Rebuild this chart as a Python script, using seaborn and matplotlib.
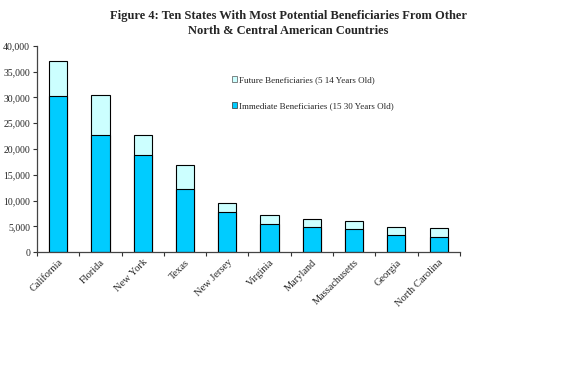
import numpy as np
import pandas as pd
import matplotlib
matplotlib.use("Agg")
import matplotlib.pyplot as plt
import seaborn as sns
from matplotlib.patches import Patch
from matplotlib.ticker import FuncFormatter, FixedLocator

# chart data
states = ["California", "Florida", "New York", "Texas", "New Jersey",
          "Virginia", "Maryland", "Massachusetts", "Georgia", "North Carolina"]
immediate = [30200, 22700, 18900, 12300, 7800, 5400, 4900, 4500, 3400, 2900]
future = [6900, 7800, 3900, 4600, 1700, 1800, 1600, 1450, 1400, 1700]

df = pd.DataFrame({"State": states, "Immediate": immediate, "Future": future})
df["Total"] = df["Immediate"] + df["Future"]

sns.set_style("white")
plt.rcParams["font.family"] = ["Liberation Serif", "DejaVu Serif"]

fig = plt.figure(figsize=(5.88, 3.67), dpi=100)
ax = fig.add_axes([0.063, 0.313, 0.719, 0.562])

# total bars first (light), immediate on top (dark)
sns.barplot(data=df, x="State", y="Total", color="#CCFFFF", width=0.43,
            edgecolor="black", linewidth=0.8, saturation=1, ax=ax)
sns.barplot(data=df, x="State", y="Immediate", color="#00CCFF", width=0.43,
            edgecolor="black", linewidth=0.8, saturation=1, ax=ax)

ax.set_xlim(-0.5, len(states) - 0.5)
ax.set_ylim(0, 40000)
ax.set_yticks(np.arange(0, 40001, 5000))
ax.yaxis.set_major_formatter(FuncFormatter(lambda v, p: f"{int(v):,}"))
ax.set_xlabel("")
ax.set_ylabel("")

# Excel style: tick marks between categories
ax.xaxis.set_minor_locator(FixedLocator(np.arange(-0.5, len(states), 1)))
ax.tick_params(axis="x", which="major", length=0, pad=4)
ax.tick_params(axis="x", which="minor", length=3, width=0.8, color="#333333", direction="out", bottom=True)
ax.tick_params(axis="y", length=3, width=0.8, color="#333333", direction="out", left=True, labelsize=7, pad=2)
ax.set_xticks(range(len(states)))
ax.set_xticklabels(states, rotation=45, ha="right", rotation_mode="anchor", fontsize=7.5)

for s in ["top", "right"]:
    ax.spines[s].set_visible(False)
for s in ["left", "bottom"]:
    ax.spines[s].set_color("#444444")
    ax.spines[s].set_linewidth(0.9)

fig.text(0.49, 0.972, "Figure 4: Ten States With Most Potential Beneficiaries From Other\nNorth & Central American Countries",
         ha="center", va="top", fontsize=9, fontweight="bold", linespacing=1.3)

handles = [Patch(facecolor="#CCFFFF", edgecolor="#555555", linewidth=0.5, label="Future Beneficiaries (5 14 Years Old)"),
           Patch(facecolor="#00CCFF", edgecolor="#333333", linewidth=0.5, label="Immediate Beneficiaries (15 30 Years Old)")]
fig.legend(handles=handles, loc="upper left", bbox_to_anchor=(0.38, 0.815), frameon=False,
           fontsize=6.5, handlelength=0.6, handleheight=0.6, handletextpad=0.2, labelspacing=2.0)

fig.savefig("out.png", dpi=100)
